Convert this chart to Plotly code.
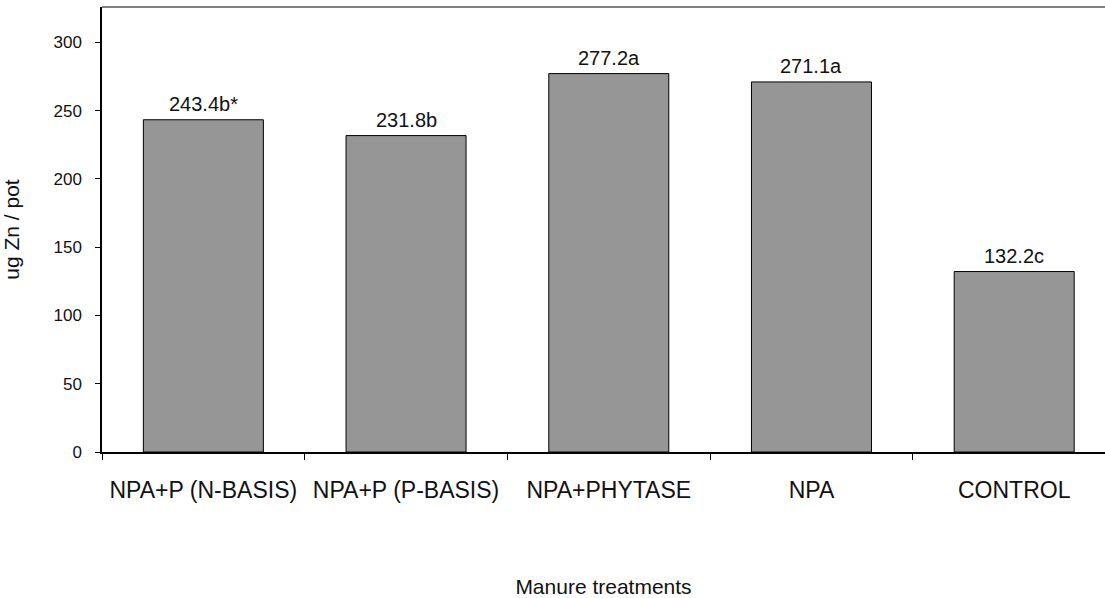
import plotly.graph_objects as go

categories = ["NPA+P (N-BASIS)", "NPA+P (P-BASIS)", "NPA+PHYTASE", "NPA", "CONTROL"]
values = [243.4, 231.8, 277.2, 271.1, 132.2]
letters = ["b*", "b", "a", "a", "c"]
y_ticks = [0, 50, 100, 150, 200, 250, 300]

labels = [f"{v:.1f}{l}" for v, l in zip(values, letters)]

font_family = "Liberation Sans, Arial, sans-serif"

fig = go.Figure()
fig.add_trace(go.Bar(
    x=categories,
    y=values,
    width=0.592,
    marker=dict(color="#969696", line=dict(color="black", width=1)),
    hoverinfo="skip",
))

for c, v, t in zip(categories, values, labels):
    fig.add_annotation(x=c, y=v, text=t, showarrow=False, yanchor="bottom", yshift=3,
                       font=dict(size=20, color="#111111", family=font_family))

fig.update_layout(
    width=1105,
    height=598,
    margin=dict(l=102, r=0, t=7, b=146, autoexpand=False),
    paper_bgcolor="white",
    plot_bgcolor="white",
    showlegend=False,
    font=dict(family=font_family, color="black"),
    shapes=[dict(type="line", xref="paper", yref="paper", x0=0, x1=1, y0=1, y1=1,
                 line=dict(color="#808080", width=2))],
)

fig.update_xaxes(
    range=[-0.5, 4.448],
    automargin=False,
    showline=True, linecolor="black", linewidth=2,
    ticks="outside", tickson="boundaries", ticklen=6, tickcolor="black", tickwidth=1,
    tickfont=dict(size=23, family=font_family, color="#111111"),
    ticklabelstandoff=16,
    showgrid=False, zeroline=False,
    title=dict(text="Manure treatments", font=dict(size=21, family=font_family, color="#111111"), standoff=85),
)
fig.update_yaxes(
    range=[0, 326],
    automargin=False,
    tickvals=y_ticks,
    showline=True, linecolor="black", linewidth=1.5,
    ticks="outside", ticklen=5, tickcolor="black", tickwidth=1,
    tickfont=dict(size=17, family=font_family, color="#111111"),
    ticklabelstandoff=10,
    showgrid=False, zeroline=False,
    title=dict(text="ug Zn / pot", font=dict(size=21, family=font_family, color="#111111"), standoff=29),
)

fig.write_html("out.html", config={"displayModeBar": False},
               post_script="document.body.style.margin='0';document.body.style.overflow='hidden';")
